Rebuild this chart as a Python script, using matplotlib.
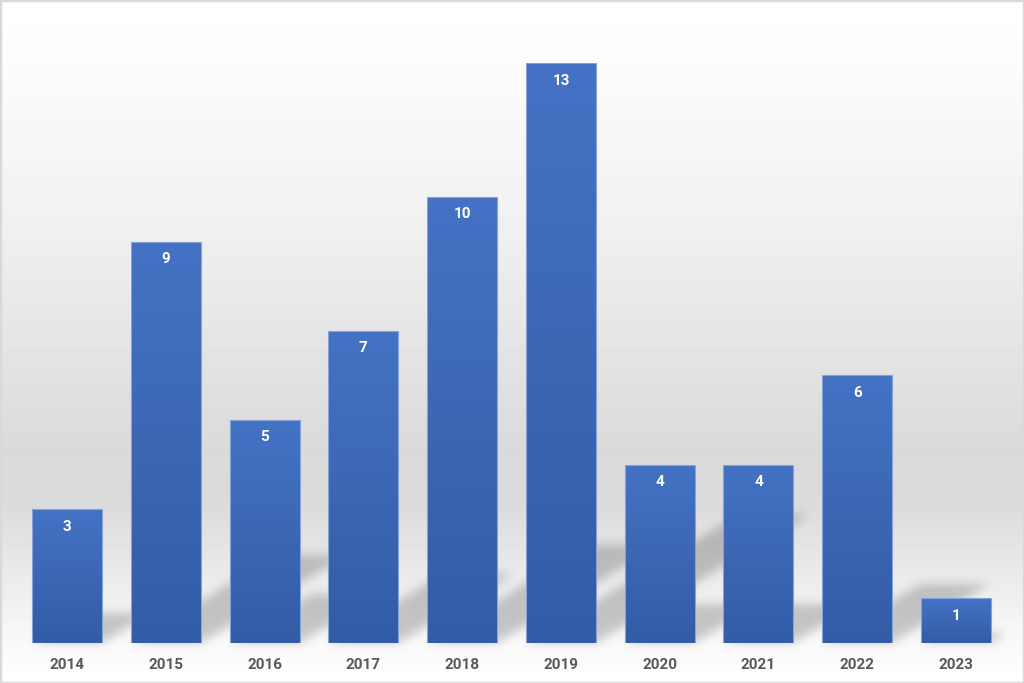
import numpy as np
import matplotlib
matplotlib.use("Agg")
import matplotlib.pyplot as plt
from matplotlib.colors import LinearSegmentedColormap
from matplotlib.path import Path
from matplotlib.patches import Rectangle

# ---- data ----
years = ["2014", "2015", "2016", "2017", "2018", "2019", "2020", "2021", "2022", "2023"]
counts = [3, 9, 5, 7, 10, 13, 4, 4, 6, 1]

plt.rcParams['font.family'] = ['Roboto', 'DejaVu Sans']

W_IN, H_IN, DPI = 10.24, 6.83, 100
fig = plt.figure(figsize=(W_IN, H_IN), dpi=DPI)

# ---- background gradient (figure level) ----
ax_bg = fig.add_axes([0, 0, 1, 1])
ax_bg.set_zorder(-10)
stops_pos = [0.0, 0.05, 0.30, 0.66, 0.74, 0.86, 0.94, 1.0]   # from top
stops_val = [1.0, 0.995, 0.95, 0.855, 0.86, 0.93, 0.975, 1.0]
yy = np.linspace(0, 1, 683)
grad = np.interp(yy, stops_pos, stops_val)
ax_bg.imshow(grad[:, None], cmap='gray', vmin=0, vmax=1, aspect='auto',
             extent=[0, 1, 0, 1], origin='upper')
ax_bg.set_xlim(0, 1); ax_bg.set_ylim(0, 1)
ax_bg.axis('off')
ax_bg.add_patch(Rectangle((0, 0), 1, 1, transform=ax_bg.transAxes, fill=False,
                          edgecolor='#d9d9d9', lw=2.5, clip_on=False))

# ---- main axes ----
left, right = 17.6 / 1024, 1005.4 / 1024
bottom, top = 40 / 683, 1 - 18.6 / 683
ax = fig.add_axes([left, bottom, right - left, top - bottom])
ax.set_facecolor('none')
n = len(years)
xpos = np.arange(n)
bw = 0.708
ax.set_xlim(-0.5, n - 0.5)
ax.set_ylim(0, 14)

# ---- shadows (perspective, upper-right, blurred) ----
sx, sy = 0.165, 0.22
ax_w_px = int(round((right - left) * 1024))
ax_h_px = int(round((top - bottom) * 683))
ylo = -0.4
Hpx = int(round(ax_h_px * (14 - ylo) / 14))
gx = np.linspace(-0.5, n - 0.5, ax_w_px)
gy = np.linspace(ylo, 14, Hpx)
GX, GY = np.meshgrid(gx, gy)
pts = np.column_stack([GX.ravel(), GY.ravel()])
mask = np.zeros(GX.size, dtype=float)
for x, v in zip(xpos, counts):
    x0, x1 = x - bw / 2, x + bw / 2
    poly = Path([(x0, 0), (x1, 0), (x1 + sx * v, sy * v), (x0 + sx * v, sy * v), (x0, 0)])
    mask = np.maximum(mask, poly.contains_points(pts).astype(float))
mask = mask.reshape(GX.shape)
sig = 5.0
k = np.arange(-18, 19)
kern = np.exp(-k ** 2 / (2 * sig ** 2)); kern /= kern.sum()
mask = np.apply_along_axis(lambda r: np.convolve(r, kern, mode='same'), 1, mask)
mask = np.apply_along_axis(lambda c: np.convolve(c, kern, mode='same'), 0, mask)
rgba = np.zeros(mask.shape + (4,))
rgba[..., 3] = mask * 0.2
ax.imshow(rgba, extent=[-0.5, n - 0.5, ylo, 14], origin='lower', aspect='auto',
          zorder=1, interpolation='bilinear', clip_on=False)

# ---- bars with vertical gradient ----
bar_cmap = LinearSegmentedColormap.from_list('barg', ['#335ca6', '#4472c4'])
bars = ax.bar(xpos, counts, width=bw, color='none', edgecolor='#86a3d8',
              linewidth=0.8, zorder=3)
gimg = np.linspace(0, 1, 256)[:, None]
for b, v in zip(bars, counts):
    x0 = b.get_x()
    im = ax.imshow(gimg, cmap=bar_cmap, vmin=0, vmax=1, aspect='auto',
                   extent=[x0, x0 + b.get_width(), 0, v], origin='lower', zorder=2)
    im.set_clip_path(b)
    ax.annotate(str(v), (b.get_x() + b.get_width() / 2, v), xytext=(0, -12.5),
                textcoords='offset points', ha='center', va='center',
                color='white', fontweight='bold', fontsize=11, zorder=5)

ax.set_xlim(-0.5, n - 0.5)
ax.set_ylim(0, 14)
ax.set_xticks(xpos)
ax.set_xticklabels(years, fontweight='bold', fontsize=11, color='#595959')
ax.tick_params(axis='x', length=0, pad=10.5)
ax.set_yticks([])
for s in ax.spines.values():
    s.set_visible(False)

fig.savefig('out.png', dpi=DPI)
